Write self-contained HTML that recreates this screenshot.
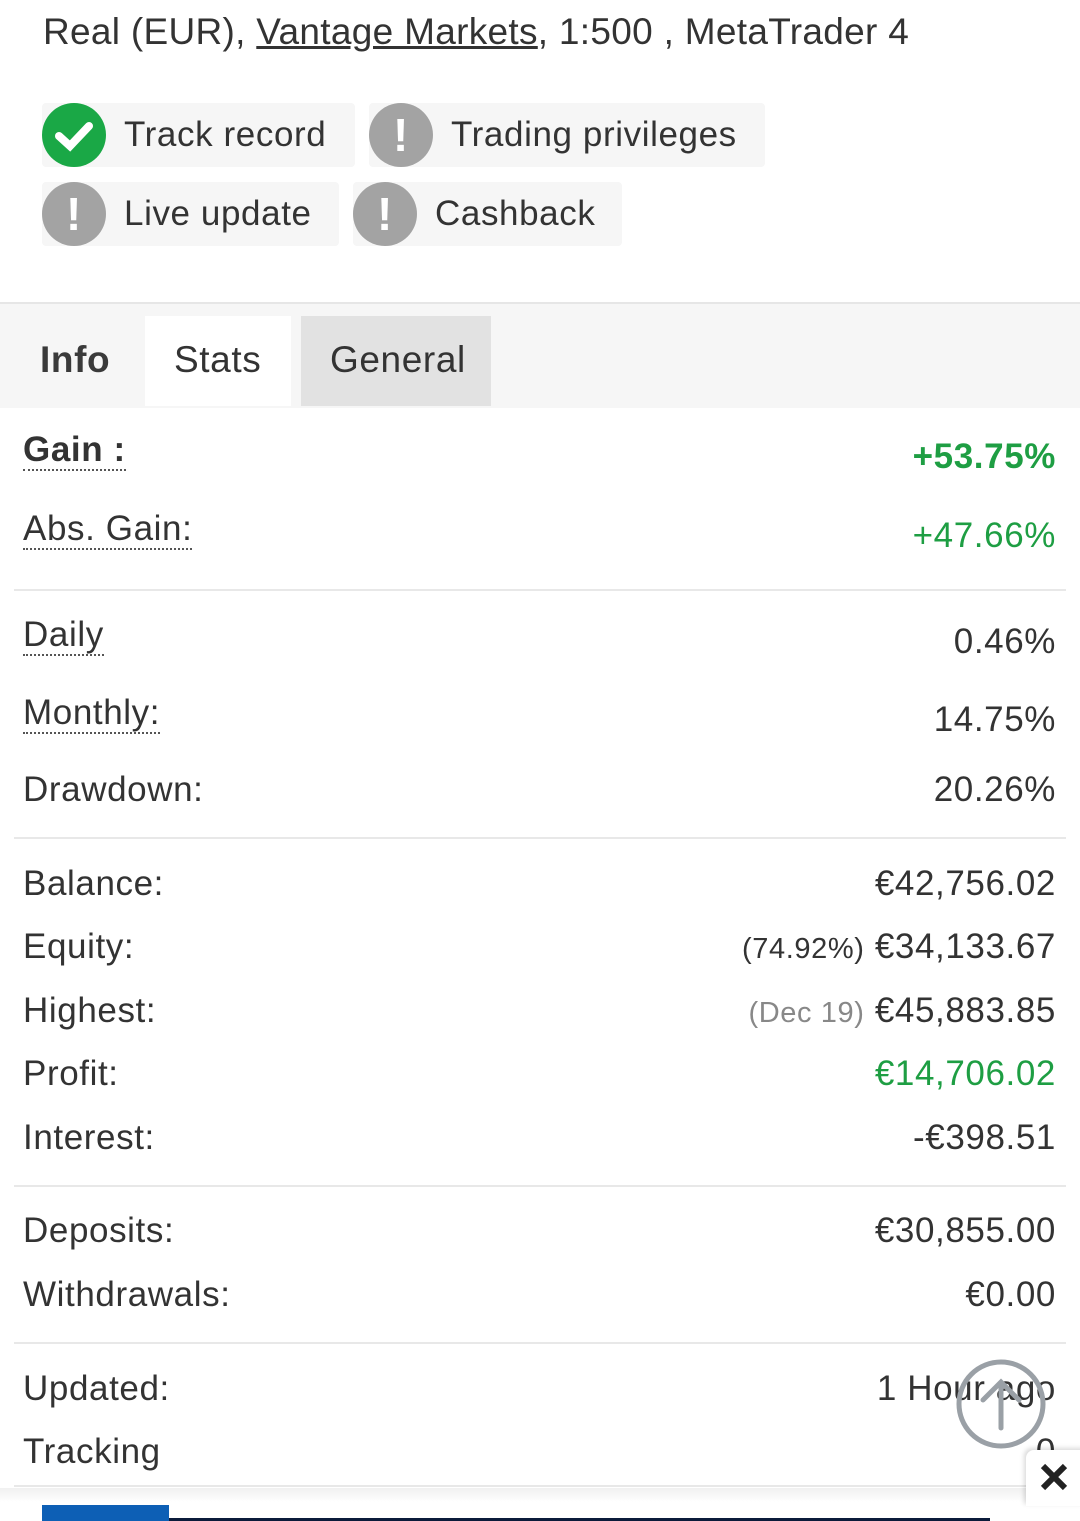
<!DOCTYPE html>
<html><head><meta charset="utf-8"><style>
body{margin:0;width:1080px;height:1521px;position:relative;overflow:hidden;background:#fff;font-family:"Liberation Sans",sans-serif;color:#333;letter-spacing:0.6px}
.a{position:absolute;white-space:nowrap}
.l{left:23px;font-size:35px;line-height:40px}
.u{border-bottom:2px dotted #555;padding-bottom:0}
.v{right:24px;font-size:35px;line-height:40px;text-align:right}
.g{color:#1e9e43}
.s{color:#888;font-size:28px}
.sep{position:absolute;left:14px;width:1052px;height:2px;background:#e8e8e8}
.badge{position:absolute;height:64px;background:#f6f6f6;border-radius:4px;font-size:35px;line-height:64px}
.ic{position:absolute;left:0;top:0;width:64px;height:64px;border-radius:50%;background:#a3a3a3;color:#fff;text-align:center;font-weight:bold;font-size:46px;line-height:64px}
</style></head><body>
<div class="a" style="left:43px;top:12px;font-size:37px;line-height:40px;letter-spacing:0.3px">Real (EUR), <span style="text-decoration:underline">Vantage Markets</span>, 1:500 , MetaTrader 4</div>

<div class="badge" style="left:42px;top:103px;width:313px"><div class="ic" style="background:#1aa846"><svg width="64" height="64"><path d="M17 33 L28 43 L47 23" stroke="#fff" stroke-width="8" fill="none" stroke-linecap="round"/></svg></div><span style="position:absolute;left:82px">Track record</span></div>
<div class="badge" style="left:369px;top:103px;width:396px"><div class="ic">!</div><span style="position:absolute;left:82px">Trading privileges</span></div>
<div class="badge" style="left:42px;top:182px;width:297px"><div class="ic">!</div><span style="position:absolute;left:82px">Live update</span></div>
<div class="badge" style="left:353px;top:182px;width:269px"><div class="ic">!</div><span style="position:absolute;left:82px">Cashback</span></div>

<div style="position:absolute;left:0;top:302px;width:1080px;height:104px;background:#f6f6f6;border-top:2px solid #e6e6e6"></div>
<div style="position:absolute;left:145px;top:316px;width:146px;height:90px;background:#fff"></div>
<div style="position:absolute;left:301px;top:316px;width:190px;height:90px;background:#e2e2e2"></div>
<div class="a" style="left:40px;top:339px;font-size:37px;font-weight:bold;color:#3a3a3a">Info</div>
<div class="a" style="left:174px;top:339px;font-size:37px">Stats</div>
<div class="a" style="left:330px;top:339px;font-size:37px">General</div>

<div class="a l" style="top:430px;font-weight:bold"><span class="u">Gain :</span></div>
<div class="a v g" style="top:437px;font-weight:bold">+53.75%</div>
<div class="a l" style="top:509px"><span class="u">Abs. Gain:</span></div>
<div class="a v g" style="top:516px">+47.66%</div>
<div class="sep" style="top:589px"></div>
<div class="a l" style="top:615px"><span class="u">Daily</span></div>
<div class="a v" style="top:622px">0.46%</div>
<div class="a l" style="top:693px"><span class="u">Monthly:</span></div>
<div class="a v" style="top:700px">14.75%</div>
<div class="a l" style="top:770px">Drawdown:</div>
<div class="a v" style="top:770px">20.26%</div>
<div class="sep" style="top:837px"></div>
<div class="a l" style="top:864px">Balance:</div>
<div class="a v" style="top:864px">€42,756.02</div>
<div class="a l" style="top:927px">Equity:</div>
<div class="a v" style="top:927px"><span style="font-size:29px">(74.92%)</span> €34,133.67</div>
<div class="a l" style="top:991px">Highest:</div>
<div class="a v" style="top:991px"><span class="s" style="font-size:29px">(Dec 19)</span> €45,883.85</div>
<div class="a l" style="top:1054px">Profit:</div>
<div class="a v g" style="top:1054px">€14,706.02</div>
<div class="a l" style="top:1118px">Interest:</div>
<div class="a v" style="top:1118px">-€398.51</div>
<div class="sep" style="top:1185px"></div>
<div class="a l" style="top:1211px">Deposits:</div>
<div class="a v" style="top:1211px">€30,855.00</div>
<div class="a l" style="top:1275px">Withdrawals:</div>
<div class="a v" style="top:1275px">€0.00</div>
<div class="sep" style="top:1342px"></div>
<div class="a l" style="top:1369px">Updated:</div>
<div class="a v" style="top:1369px">1 Hour ago</div>
<div class="a l" style="top:1432px">Tracking</div>
<div class="a v" style="top:1432px">0</div>
<div class="sep" style="top:1485px"></div>
<div style="position:absolute;left:0;top:1488px;width:1080px;height:14px;background:linear-gradient(#f0f0f0,#fff)"></div>
<svg class="a" style="left:955px;top:1358px" width="92" height="92"><circle cx="46" cy="46" r="42" fill="none" stroke="#9aa0a6" stroke-width="5"/><path d="M46 70 V24 M28 42 L46 24 L64 42" stroke="#9aa0a6" stroke-width="5" fill="none" stroke-linecap="round"/></svg>
<div style="position:absolute;left:1026px;top:1450px;width:60px;height:56px;background:#fff;border-radius:8px 0 0 0;box-shadow:-2px -2px 5px rgba(0,0,0,.15)"></div>
<svg class="a" style="left:1040px;top:1463px" width="28" height="28"><path d="M3 3 L25 25 M25 3 L3 25" stroke="#222" stroke-width="6"/></svg>
<div style="position:absolute;left:42px;top:1518px;width:948px;height:3px;background:#0b1b3a"></div>
<div style="position:absolute;left:42px;top:1505px;width:127px;height:16px;background:#0d5fb5"></div>
</body></html>
